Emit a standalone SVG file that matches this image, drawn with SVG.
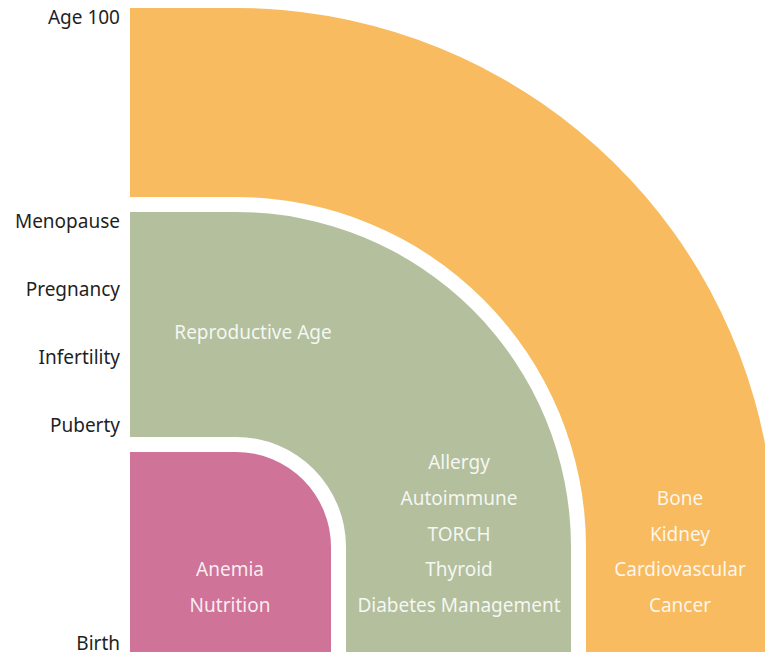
<svg xmlns="http://www.w3.org/2000/svg" width="766" height="655" viewBox="0 0 766 655">
  <style>
    .axis { font-family: "Noto Sans", "Open Sans", sans-serif; font-size: 19px; fill: #1f1f1f; text-anchor: end; }
    .lbl { font-family: "Noto Sans", "Open Sans", sans-serif; font-size: 19px; fill: #ffffff; fill-opacity: 0.88; text-anchor: middle; }
    .orange { fill: #F8BB5F; }
    .green { fill: #B4BF9E; }
    .pink { fill: #CF7399; }
  </style>
  <rect width="766" height="655" fill="#ffffff"/>

  <g id="later-life">
    <path class="orange" d="M130,8 H236 A539,539 0 0 1 765,443.7 V652 H586 V547 A350,350 0 0 0 236,197 H130 Z"/>
    <text class="lbl" x="680" y="505">Bone</text>
    <text class="lbl" x="680" y="541">Kidney</text>
    <text class="lbl" x="680" y="576">Cardiovascular</text>
    <text class="lbl" x="680" y="612">Cancer</text>
  </g>

  <g id="reproductive-age">
    <path class="green" d="M130,212 H236 A335,335 0 0 1 571,547 V652 H346 V547 A110,110 0 0 0 236,437 H130 Z"/>
    <text class="lbl" x="253" y="339">Reproductive Age</text>
    <text class="lbl" x="459" y="469">Allergy</text>
    <text class="lbl" x="459" y="505">Autoimmune</text>
    <text class="lbl" x="459" y="541">TORCH</text>
    <text class="lbl" x="459" y="576">Thyroid</text>
    <text class="lbl" x="459" y="612">Diabetes Management</text>
  </g>

  <g id="childhood">
    <path class="pink" d="M130,452 H236 A95,95 0 0 1 331,547 V652 H130 Z"/>
    <text class="lbl" x="230" y="576">Anemia</text>
    <text class="lbl" x="230" y="612">Nutrition</text>
  </g>

  <g id="axis-labels">
    <text class="axis" x="120" y="24">Age 100</text>
    <text class="axis" x="120" y="228">Menopause</text>
    <text class="axis" x="120" y="296">Pregnancy</text>
    <text class="axis" x="120" y="364">Infertility</text>
    <text class="axis" x="120" y="432">Puberty</text>
    <text class="axis" x="120" y="650">Birth</text>
  </g>
</svg>
